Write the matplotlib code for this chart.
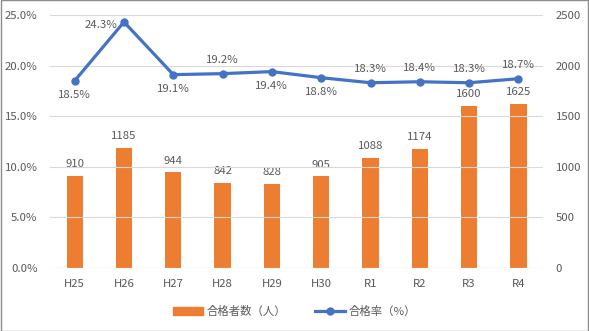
import numpy as np
import matplotlib.pyplot as plt
from matplotlib.patches import Rectangle

plt.rcParams['font.family'] = ['Noto Sans CJK JP', 'DejaVu Sans']

years = ["H25", "H26", "H27", "H28", "H29", "H30", "R1", "R2", "R3", "R4"]
passers = [910, 1185, 944, 842, 828, 905, 1088, 1174, 1600, 1625]
pass_rate = [18.5, 24.3, 19.1, 19.2, 19.4, 18.8, 18.3, 18.4, 18.3, 18.7]
# where each rate label sits relative to its point
rate_pos = ["below", "left", "below", "above", "below", "below", "above", "above", "above", "above"]

orange = "#ED7D31"
blue = "#4472C4"
txt = "#595959"
grid = "#D9D9D9"
fs = 8.2

fig = plt.figure(figsize=(5.89, 3.31), dpi=100)
ax = fig.add_axes([0.085, 0.19, 0.837, 0.765])
ax2 = ax.twinx()

x = np.arange(len(years))

# bars on the right axis (people)
ax2.bar(x, passers, width=0.33, color=orange, zorder=2)
for xi, v in zip(x, passers):
    ax2.annotate(str(v), (xi, v), xytext=(0, 5), textcoords="offset points",
                 ha="center", va="bottom", fontsize=fs, color=txt)
ax2.set_ylim(0, 2500)
ax2.set_yticks(np.arange(0, 2501, 500))

# rate line on the left axis
ax.set_ylim(0, 25)
ax.set_yticks(np.arange(0, 25.1, 5))
ax.set_yticklabels([f"{t:.1f}%" for t in np.arange(0, 25.1, 5)])
ax.yaxis.grid(True, color=grid, lw=0.8)
ax.set_axisbelow(True)

# draw line on top of bars
ax.set_zorder(ax2.get_zorder() + 1)
ax.patch.set_visible(False)
ax.plot(x, pass_rate, color=blue, lw=2.3, marker="o", ms=5, zorder=3)
for xi, v, p in zip(x, pass_rate, rate_pos):
    if p == "above":
        off, ha, va = (0, 6), "center", "bottom"
    elif p == "below":
        off, ha, va = (0, -7), "center", "top"
    else:
        off, ha, va = (-5, -2), "right", "center"
    ax.annotate(f"{v}%", (xi, v), xytext=off, textcoords="offset points",
                ha=ha, va=va, fontsize=fs, color=txt)

ax.set_xlim(-0.5, len(years) - 0.5)
ax.set_xticks(x)
ax.set_xticklabels(years)

for a in (ax, ax2):
    for s in a.spines.values():
        s.set_visible(False)
    a.tick_params(length=0, labelsize=fs, colors=txt)
ax.tick_params(axis="x", pad=8)
ax.tick_params(axis="y", pad=9)
ax2.tick_params(axis="y", pad=9)
ax.axhline(0, color=grid, lw=0.8)

# legend below the plot
h1 = plt.Rectangle((0, 0), 1, 1, color=orange)
h2, = ax.plot([], [], color=blue, lw=2.3, marker="o", ms=5)
fig.legend([h1, h2], ["合格者数（人）", "合格率（%）"], loc="center",
           bbox_to_anchor=(0.5, 0.06), ncol=2, frameon=False, fontsize=fs,
           labelcolor=txt, handlelength=2.6, handletextpad=0.3, columnspacing=2.6)

fig.patches.append(Rectangle((0.0015, 0.0015), 0.997, 0.997, transform=fig.transFigure,
                             fill=False, edgecolor="#8c8c8c", lw=1))

fig.savefig("out.png", dpi=100)
